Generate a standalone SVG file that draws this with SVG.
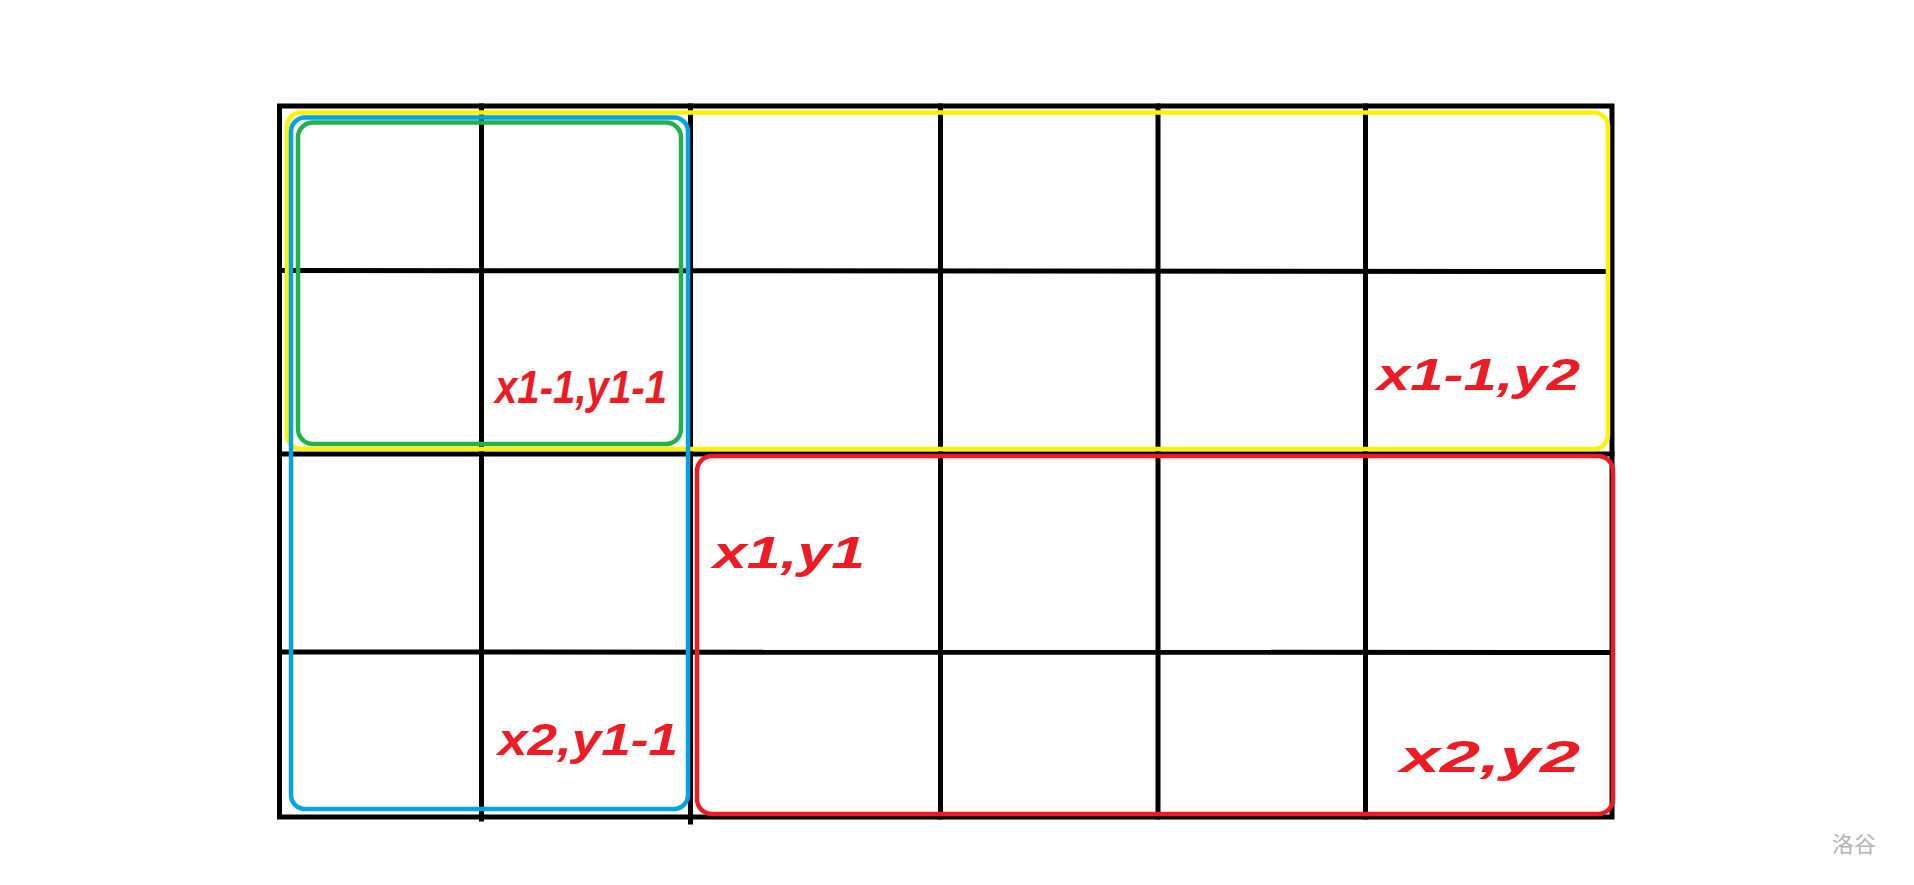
<svg xmlns="http://www.w3.org/2000/svg" width="1914" height="885" viewBox="0 0 1914 885">
<style>
.g{stroke:#000;stroke-width:5;fill:none;stroke-linecap:square}
.r{fill:none;stroke-width:4.5}
.lbl{font-family:"Liberation Sans","DejaVu Sans",sans-serif;font-weight:bold;font-style:italic;fill:#ED1C24}
.wm{font-family:"Noto Sans CJK SC",sans-serif;fill:#b4b4b4;font-size:22px}
</style>
<rect width="1914" height="885" fill="#fff"/>
<g id="grid">
<rect class="g" x="279.5" y="106" width="1332.5" height="711"/>
<line class="g" x1="481.5" y1="106" x2="481.5" y2="819"/>
<line class="g" x1="690.5" y1="106" x2="690.5" y2="822"/>
<line class="g" x1="940.5" y1="106" x2="940.5" y2="817"/>
<line class="g" x1="1158" y1="106" x2="1158" y2="817"/>
<line class="g" x1="1365.5" y1="106" x2="1365.5" y2="817"/>
<line class="g" x1="279.5" y1="270.5" x2="1608" y2="271.5"/>
<line class="g" x1="279.5" y1="454" x2="1612" y2="454"/>
<line class="g" x1="279.5" y1="652" x2="1612" y2="652.5"/>
</g>
<g id="yellow-region"><rect class="r" x="287" y="112.5" width="1321" height="336.5" rx="14" stroke="#FFF200"/></g>
<g id="blue-region"><rect class="r" x="291" y="117.5" width="397" height="691.5" rx="14" stroke="#00A2E8"/></g>
<g id="green-region"><rect class="r" x="298" y="122.5" width="383" height="321.5" rx="15" stroke="#22B14C"/></g>
<g id="red-region"><rect class="r" x="697" y="456" width="916" height="358" rx="15" stroke="#ED1C24"/></g>
<g id="labels">
<text class="lbl" x="495" y="403" font-size="46" textLength="172" lengthAdjust="spacingAndGlyphs">x1-1,y1-1</text>
<text class="lbl" x="1377" y="390" font-size="44" textLength="203" lengthAdjust="spacingAndGlyphs">x1-1,y2</text>
<text class="lbl" x="713" y="568" font-size="44" textLength="152" lengthAdjust="spacingAndGlyphs">x1,y1</text>
<text class="lbl" x="498" y="755" font-size="44" textLength="180" lengthAdjust="spacingAndGlyphs">x2,y1-1</text>
<text class="lbl" x="1400" y="772" font-size="44" textLength="180" lengthAdjust="spacingAndGlyphs">x2,y2</text>
</g>
<text class="wm" x="1832" y="852">洛谷</text>
</svg>
